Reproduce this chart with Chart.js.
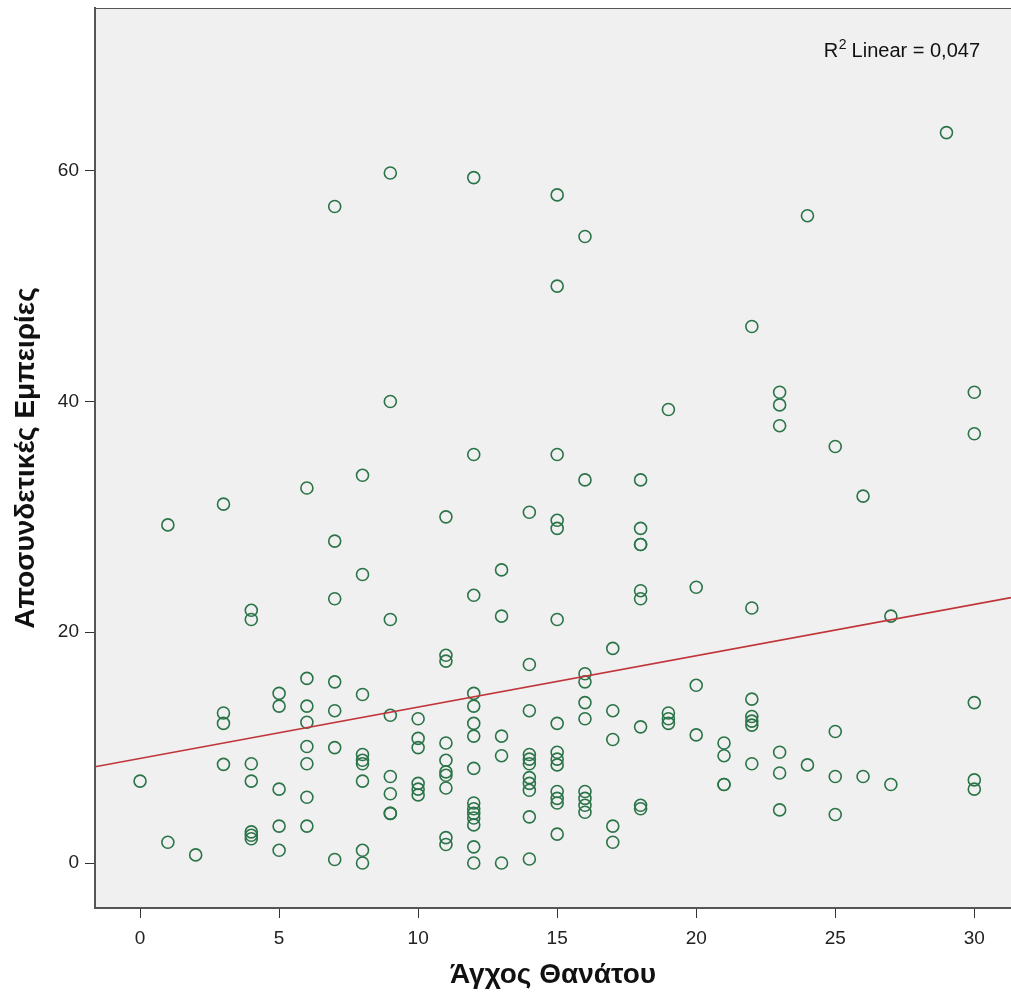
<!DOCTYPE html>
<html>
<head>
<meta charset="utf-8">
<script src="https://cdn.jsdelivr.net/npm/chart.js@4.4.1/dist/chart.umd.min.js"></script>
<style>
  html, body { margin: 0; padding: 0; background: #ffffff; overflow: hidden; }
  #wrap { width: 1011px; height: 999px; }
  canvas { display: block; }
</style>
</head>
<body>
<div id="wrap"><canvas id="c" width="1011" height="999"></canvas></div>
<script>
// ---- data ----
const anxietyValues = [0, 1, 2, 3, 4, 5, 6, 7, 8, 9, 10, 11, 12, 13, 14, 15, 16, 17, 18, 19, 20, 21, 22, 23, 24, 25, 26, 27, 29, 30];
const dissociationByAnxiety = [
  [7.1],
  [29.3, 1.8],
  [0.7],
  [31.1, 13.0, 12.1, 8.55],
  [21.9, 21.1, 8.6, 7.1, 2.7, 2.4, 2.1],
  [14.7, 13.6, 6.4, 3.2, 1.1],
  [32.5, 16.0, 13.6, 12.2, 10.1, 8.6, 5.7, 3.2],
  [56.9, 27.9, 22.9, 15.7, 13.2, 10.0, 0.3],
  [33.6, 25.0, 14.6, 9.4, 8.9, 8.6, 7.1, 1.1, 0],
  [59.8, 40.0, 21.1, 12.8, 7.5, 6.0, 4.3, 4.3],
  [12.5, 10.8, 10.0, 6.9, 6.4, 5.9],
  [30.0, 18.0, 17.5, 10.4, 8.9, 7.9, 7.6, 6.5, 2.2, 1.6],
  [59.4, 35.4, 23.2, 14.7, 13.6, 12.1, 11.0, 8.2, 5.2, 4.7, 4.3, 3.9, 3.3, 1.4, 0],
  [25.4, 21.4, 11.0, 9.3, 0],
  [30.4, 17.2, 13.2, 9.4, 9.0, 8.6, 7.4, 6.9, 6.3, 4.0, 0.35],
  [57.9, 50.0, 35.4, 29.7, 29.0, 21.1, 12.1, 9.6, 9.0, 8.5, 6.2, 5.6, 5.2, 2.5],
  [54.3, 33.2, 16.4, 15.7, 13.9, 12.5, 6.2, 5.6, 5.0, 4.4],
  [18.6, 13.2, 10.7, 3.2, 1.8],
  [33.2, 29.0, 27.6, 27.6, 23.6, 22.9, 11.8, 5.0, 4.7],
  [39.3, 13.0, 12.5, 12.1],
  [23.9, 15.4, 11.1],
  [10.4, 9.3, 6.8, 6.8],
  [46.5, 22.1, 14.2, 12.7, 12.3, 11.95, 8.6],
  [40.8, 39.7, 37.9, 9.6, 7.8, 4.6],
  [56.1, 8.5],
  [36.1, 11.4, 7.5, 4.2],
  [31.8, 7.5],
  [21.4, 6.8],
  [63.3],
  [40.8, 37.2, 13.9, 7.2, 6.4]
];
const fitIntercept = [9.06];
const fitSlope = [0.445];
const rSquaredText = ['0,047'];
const xTicks = [0, 5, 10, 15, 20, 25, 30];
const yTicks = [0, 20, 40, 60];
const xTitle = 'Άγχος Θανάτου';
const yTitle = 'Αποσυνδετικές Εμπειρίες';

// ---- build ----
const X_MIN = -1.62, X_MAX = 31.32, Y_MIN = -3.9, Y_MAX = 74.1;
const points = [];
anxietyValues.forEach((xv, i) => {
  dissociationByAnxiety[i].forEach(yv => points.push({ x: xv, y: yv }));
});
const fitLine = [X_MIN, X_MAX].map(xv => ({ x: xv, y: fitIntercept[0] + fitSlope[0] * xv }));

const FONT = "'Liberation Sans', Arial, sans-serif";

const bgPlugin = {
  id: 'plotBg',
  beforeDraw(chart) {
    const { ctx, chartArea: a } = chart;
    ctx.save();
    ctx.fillStyle = '#f0f0f0';
    ctx.fillRect(a.left, a.top, a.right - a.left, a.bottom - a.top);
    ctx.restore();
  },
  afterDraw(chart) {
    const { ctx, chartArea: a } = chart;
    ctx.save();
    ctx.strokeStyle = '#555555';
    ctx.lineWidth = 1;
    ctx.beginPath();
    ctx.moveTo(a.left, a.top + 0.5);
    ctx.lineTo(a.right, a.top + 0.5);
    ctx.stroke();
    // R squared annotation
    ctx.fillStyle = '#111111';
    ctx.textBaseline = 'alphabetic';
    const big = "20px " + FONT, small = "14px " + FONT;
    const rest = ' Linear = ' + rSquaredText[0];
    ctx.font = big;
    const wR = ctx.measureText('R').width;
    const wRest = ctx.measureText(rest).width;
    ctx.font = small;
    const w2 = ctx.measureText('2').width;
    const right = a.right - 31;
    const x = right - (wR + w2 + wRest);
    const base = 57;
    ctx.textAlign = 'left';
    ctx.font = big;
    ctx.fillText('R', x, base);
    ctx.font = small;
    ctx.fillText('2', x + wR + 0.5, base - 8);
    ctx.font = big;
    ctx.fillText(rest, x + wR + w2, base);
    ctx.restore();
  }
};

function zeroPad(scale) {
  scale.paddingTop = 0; scale.paddingBottom = 0;
  scale.paddingLeft = 0; scale.paddingRight = 0;
}

new Chart(document.getElementById('c'), {
  data: {
    datasets: [
      {
        type: 'scatter',
        data: points,
        pointStyle: 'circle',
        pointRadius: 6,
        pointHoverRadius: 6,
        pointBorderWidth: 1.6,
        pointBackgroundColor: 'rgba(0,0,0,0)',
        pointBorderColor: '#2a7448',
        order: 2
      },
      {
        type: 'line',
        data: fitLine,
        borderColor: '#c0353a',
        borderWidth: 1.6,
        pointRadius: 0,
        fill: false,
        order: 1
      }
    ]
  },
  options: {
    responsive: false,
    animation: false,
    events: [],
    layout: { autoPadding: false, padding: { top: 8, right: 0, left: 0, bottom: 0 } },
    plugins: { legend: { display: false }, tooltip: { enabled: false } },
    scales: {
      x: {
        type: 'linear',
        min: X_MIN,
        max: X_MAX,
        afterBuildTicks(scale) { scale.ticks = xTicks.map(v => ({ value: v })); },
        afterFit(scale) { scale.height = 91; zeroPad(scale); },
        grid: { drawOnChartArea: false, drawTicks: true, tickLength: 10, color: '#333333', lineWidth: 1 },
        border: { display: true, color: '#555555', width: 2 },
        ticks: { color: '#222222', font: { family: FONT, size: 19 }, padding: 9, maxRotation: 0 },
        title: { display: true, text: xTitle, color: '#111111', font: { family: FONT, size: 28, weight: 'bold' }, padding: { top: 0, bottom: 7 } }
      },
      y: {
        type: 'linear',
        min: Y_MIN,
        max: Y_MAX,
        afterBuildTicks(scale) { scale.ticks = yTicks.map(v => ({ value: v })); },
        afterFit(scale) { scale.width = 95; zeroPad(scale); },
        grid: { drawOnChartArea: false, drawTicks: true, tickLength: 10, color: '#333333', lineWidth: 1 },
        border: { display: true, color: '#555555', width: 2 },
        ticks: { color: '#222222', font: { family: FONT, size: 19 }, padding: 6 },
        title: { display: true, text: yTitle, color: '#111111', font: { family: FONT, size: 28, weight: 'bold' }, padding: { top: 9, bottom: 0 } }
      }
    }
  },
  plugins: [bgPlugin]
});
</script>
</body>
</html>
